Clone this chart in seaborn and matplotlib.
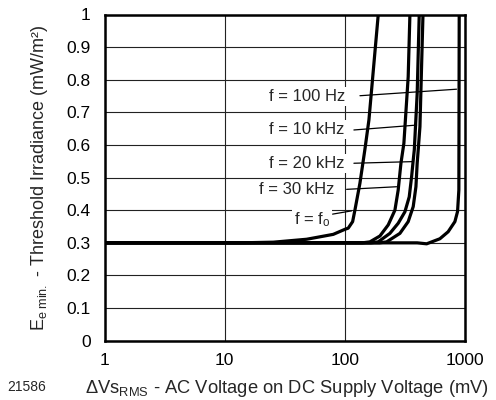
import numpy as np
import pandas as pd
import matplotlib
matplotlib.use("Agg")
import matplotlib.pyplot as plt
import seaborn as sns

# ---- data ----
fo_x = [1, 13.4, 25.4, 48.1, 80.1, 100.2, 106.7, 116.1, 121.4, 133.5, 146.7, 158.7, 189.7]
fo_y = [0.30, 0.30, 0.302, 0.311, 0.326, 0.3415, 0.345, 0.365, 0.401, 0.4825, 0.585, 0.677, 1.0]

k30_x = [1, 140, 161.7, 195.9, 229.7, 261, 278, 293, 310, 336.7, 348]
k30_y = [0.30, 0.30, 0.303, 0.321, 0.355, 0.40, 0.462, 0.544, 0.605, 0.809, 1.0]

k20_x = [1, 165, 189.6, 237, 278, 316, 343.5, 359.5, 370.9, 378.5, 400, 416]
k20_y = [0.30, 0.30, 0.303, 0.329, 0.36, 0.395, 0.441, 0.503, 0.554, 0.585, 0.758, 1.0]

k10_x = [1, 195, 222.8, 287.3, 336.7, 370.7, 390.5, 400, 408, 421.7, 447]
k10_y = [0.30, 0.30, 0.303, 0.329, 0.365, 0.411, 0.472, 0.544, 0.585, 0.656, 1.0]

hz100_x = [1, 400, 479.6, 618, 724, 824, 867, 889, 895]
hz100_y = [0.30, 0.30, 0.297, 0.3125, 0.334, 0.365, 0.396, 0.462, 1.0]

curve_names = ["f = fo", "f = 30 kHz", "f = 20 kHz", "f = 10 kHz", "f = 100 Hz"]
curve_x = [fo_x, k30_x, k20_x, k10_x, hz100_x]
curve_y = [fo_y, k30_y, k20_y, k10_y, hz100_y]

x_ticks = [1, 10, 100, 1000]
x_tick_labels = ["1", "10", "100", "1000"]
y_ticks = [0, 0.1, 0.2, 0.3, 0.4, 0.5, 0.6, 0.7, 0.8, 0.9, 1.0]
y_tick_labels = ["0", "0.1", "0.2", "0.3", "0.4", "0.5", "0.6", "0.7", "0.8", "0.9", "1"]

# label text, text anchor (right end), leader start, leader end
labels = ["f = 100 Hz", "f = 10 kHz", "f = 20 kHz", "f = 30 kHz", "f = f$_{\\mathregular{o}}$"]
label_pos = [(100, 0.748), (100, 0.648), (100, 0.544), (81.2, 0.462), (75.2, 0.372)]
leader_start = [(133.6, 0.751), (119, 0.646), (119, 0.544), (103.5, 0.464), (79.1, 0.388)]
leader_end = [(851, 0.771), (395.6, 0.661), (366.6, 0.549), (270, 0.472), (113.8, 0.398)]

rows = []
for name, xs, ys in zip(curve_names, curve_x, curve_y):
    for i, (xv, yv) in enumerate(zip(xs, ys)):
        rows.append({"curve": name, "order": i, "x": xv, "y": yv})
df = pd.DataFrame(rows)

sns.set_style("white")
plt.rcParams["font.family"] = ["Liberation Sans", "DejaVu Sans"]
plt.rcParams["mathtext.fontset"] = "custom"
plt.rcParams["mathtext.rm"] = "Liberation Sans"
plt.rcParams["mathtext.it"] = "Liberation Sans"
plt.rcParams["mathtext.default"] = "regular"

fig = plt.figure(figsize=(4.96, 4.0), dpi=100)
ax = fig.add_axes([104.5 / 496, 1 - 340.7 / 400, (465 - 104.5) / 496, (340.7 - 14.5) / 400])

ax.set_xscale("log")
ax.set_xlim(1, 1000)
ax.set_ylim(0, 1)
ax.set_xticks(x_ticks)
ax.set_xticklabels(x_tick_labels)
ax.set_yticks(y_ticks)
ax.set_yticklabels(y_tick_labels)
ax.minorticks_off()
ax.grid(True, which="major", color="#222222", linewidth=0.8, zorder=0)
ax.set_axisbelow(True)
ax.tick_params(axis="both", length=0, labelsize=12.5, colors="black")
ax.tick_params(axis="y", pad=10)
ax.tick_params(axis="x", pad=9)
for s in ax.spines.values():
    s.set_linewidth(1.8)
    s.set_color("black")

sns.lineplot(data=df, x="x", y="y", hue="curve", units="curve", estimator=None,
             sort=False, palette=["black"] * len(curve_names), linewidth=2.3,
             legend=False, ax=ax, zorder=3)
for line in ax.lines:
    line.set_solid_joinstyle("round")
    line.set_solid_capstyle("round")

for txt, (tx, ty), (sx, sy), (ex, ey) in zip(labels, label_pos, leader_start, leader_end):
    ax.text(tx, ty, txt, ha="right", va="center", fontsize=12, zorder=4,
            bbox=dict(facecolor="white", edgecolor="none", pad=1.5))
    ax.plot([sx, ex], [sy, ey], color="black", linewidth=0.9, zorder=5)

ax.set_xlabel("ΔVs$_{RMS}$ - AC Voltage on DC Supply Voltage (mV)", fontsize=13.2)
ax.xaxis.set_label_coords(0.5 + 2.5 / 360.5, -0.115)
ax.set_ylabel("E$_{e\\ min.}$ - Threshold Irradiance (mW/m²)", fontsize=13, labelpad=12)
fig.text(7 / 496, 1 - 387 / 400, "21586", fontsize=10, ha="left", va="center")

fig.savefig("out.png", dpi=100)
